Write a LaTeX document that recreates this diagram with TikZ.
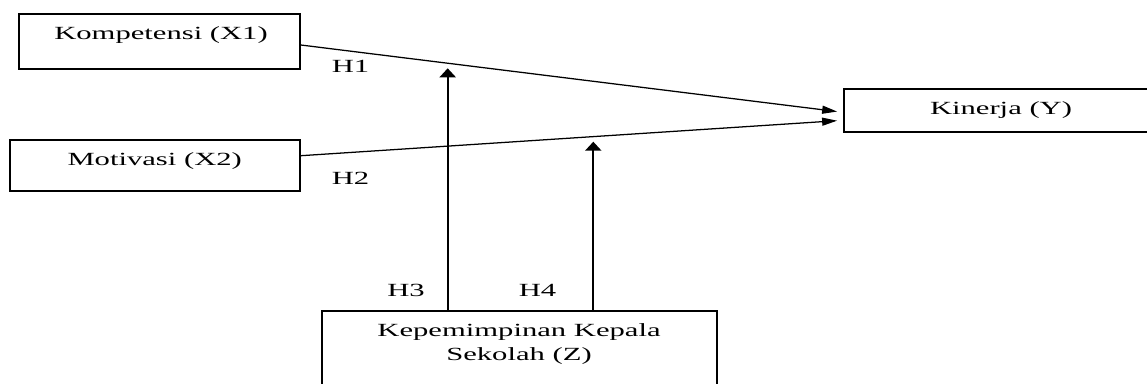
\documentclass[tikz,border=0pt]{standalone}
\usepackage{fontspec}
\setmainfont{Liberation Serif}
\usepackage{graphicx}
\usetikzlibrary{arrows.meta}
\newcommand{\stretched}[1]{\scalebox{1.65}[1]{#1}}
\tikzset{box/.style={draw, line width=1.2pt, inner sep=0pt},
        lbl/.style={inner sep=0pt, anchor=base, font=\fontsize{13.2}{16.6}\selectfont},
        effect/.style={line width=0.9pt, -{Triangle[length=0.375cm,width=0.2cm]}, shorten >=0.15cm},
        modarrow/.style={line width=1.5pt, -{Triangle[length=0.225cm,width=0.4cm]}}}

\begin{document}
\begin{tikzpicture}[x=0.025cm,y=-0.025cm]
    \useasboundingbox (0,0) rectangle (1147,383);

    \node[box, minimum width=7.025cm, minimum height=1.375cm] (x1) at (159.5,41.5) {};
    \node[box, minimum width=7.25cm, minimum height=1.275cm] (x2) at (155,165.5) {};
    \node[box, minimum width=8.15cm, minimum height=1.075cm] (y) at (1007,110.5) {};
    \node[box, minimum width=9.8675cm, minimum height=2.475cm] (z) at (519.35,360.5) {};

    \node[lbl] (x1t) at (161,39.3) {\stretched{Kompetensi (X1)}};
    \node[lbl] (x2t) at (154.7,165.7) {\stretched{Motivasi (X2)}};
    \node[lbl] (yt) at (1001,114.3) {\stretched{Kinerja (Y)}};
    \node[lbl, align=center] (zt) at (519,360)
    {\stretched{Kepemimpinan Kepala}\\\stretched{Sekolah (Z)}};

    \node[lbl] (h1) at (350.5,72.7) {\stretched{H1}};
    \node[lbl] (h2) at (350.5,184.3) {\stretched{H2}};
    \node[lbl] (h3) at (406,296.7) {\stretched{H3}};
    \node[lbl] (h4) at (537.5,296.7) {\stretched{H4}};

    \draw[effect] ([yshift=-0.0875cm]x1.east) -- ([yshift=-0.045cm]y.west);
    \draw[effect] ([yshift=0.245cm]x2.east) -- ([yshift=-0.245cm]y.west);

    \coordinate (m1) at (447.7,68.3);
    \coordinate (m2) at (593.3,141.7);
    \draw[modarrow] (z.north -| m1) -- (m1);
    \draw[modarrow] (z.north -| m2) -- (m2);
\end{tikzpicture}
\end{document}
